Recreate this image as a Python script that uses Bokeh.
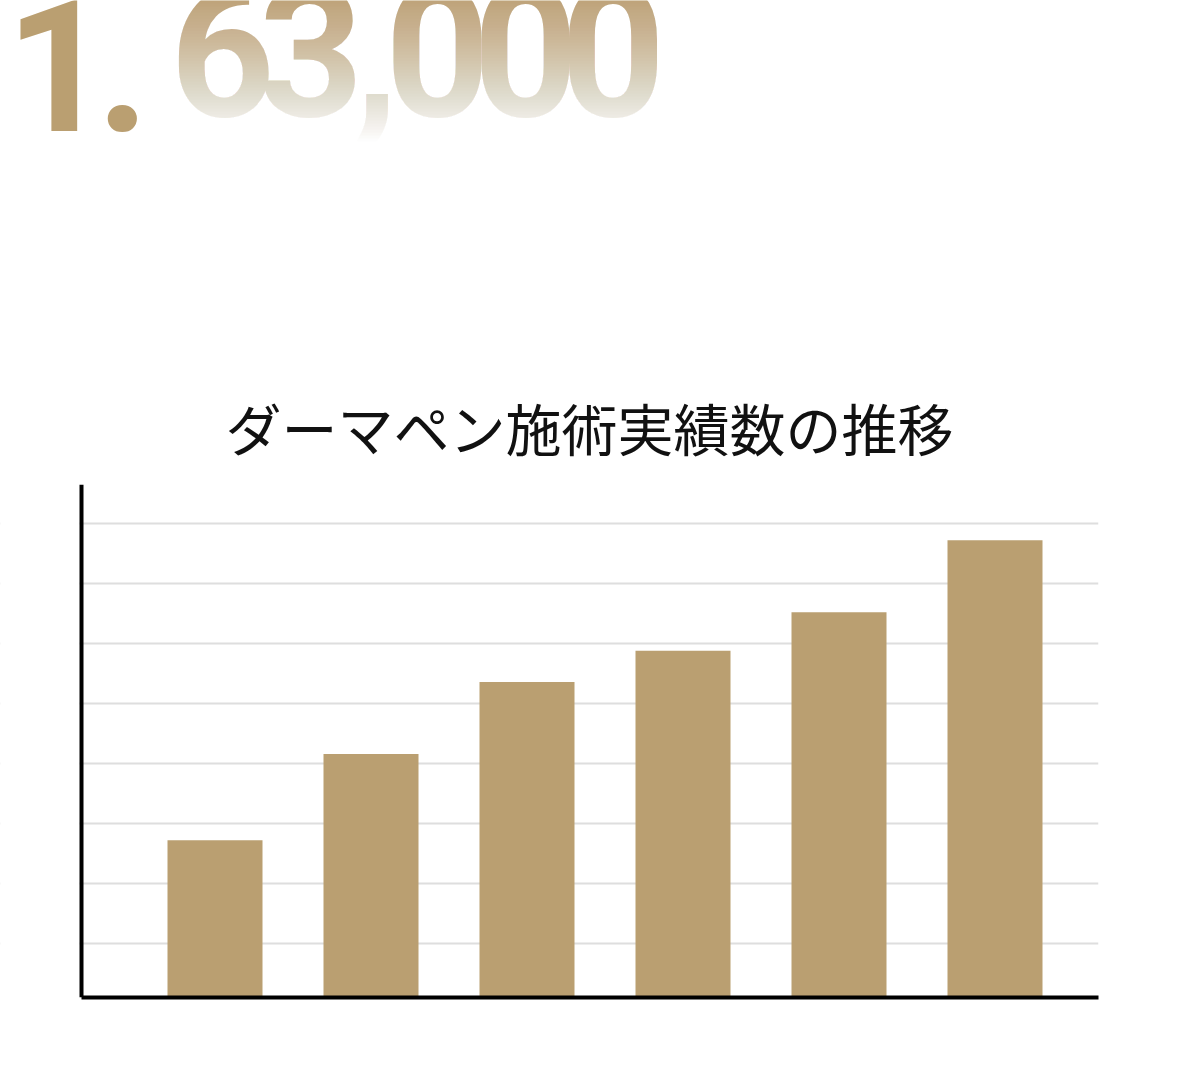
from bokeh.plotting import figure
from bokeh.layouts import column
from bokeh.models import Range1d, FixedTicker, Label, Grid, Span, BoxAnnotation
from bokeh.embed import file_html
from bokeh.resources import INLINE

# ---------------- data ----------------
title_text = "ダーマペン施術実績数の推移"
headline_lead = ["1", "."]
headline_rolling = ["6", "3", ",", "0", "0", "0"]
periods = [1, 2, 3, 4, 5, 6]
counts = [13100, 20300, 26300, 28900, 32100, 38100]
grid_values = [4500, 9500, 14500, 19500, 24500, 29500, 34500, 39500]

# ---------------- style / layout ----------------
GOLD = "#BA9F71"
NUM_FONT = "Roboto"
W = 1176
TOP_H = 359
CHART_H = 1072 - TOP_H
FRAME_R = 1098                      # right edge of both plot frames
PX_PER_CAT = 156.0                  # horizontal pixels per category step
X_START = 1 - 214.5 / PX_PER_CAT    # data x at the left canvas edge
X_END = X_START + FRAME_R / PX_PER_CAT
AXIS_X = X_START + 81 / PX_PER_CAT  # where the vertical axis line sits

# ---- headline (big counter) ----
top = figure(width=W, height=TOP_H, x_range=Range1d(0, FRAME_R), y_range=Range1d(TOP_H, 0),
             output_backend="svg", toolbar_location=None,
             min_border_left=0, min_border_right=W - FRAME_R,
             min_border_top=0, min_border_bottom=0,
             x_axis_type=None, y_axis_type=None, outline_line_color=None)

lead_x = [5, 96]
lead_y = 64.5
roll_x = [169.5, 258, 353, 384.5, 472.5, 560]
roll_y = 50

for ch, x in zip(headline_lead, lead_x):
    top.add_layout(Label(x=x, y=lead_y, text=ch, text_font=NUM_FONT, text_font_size="183px",
                         text_font_style="bold", text_color=GOLD, text_align="left",
                         text_baseline="alphabetic", level="underlay"))
for ch, x in zip(headline_rolling, roll_x):
    top.add_layout(Label(x=x, y=roll_y, text=ch, text_font=NUM_FONT, text_font_size="183px",
                         text_font_style="bold", text_color=GOLD, text_align="left",
                         text_baseline="alphabetic", level="underlay"))

# white fade overlay for the rolling digits (vertical gradient built from stacked layers)
step = 3
y_start, y_end = -12, 160
tops_, alphas_ = [], []
prev = 0.0
yk = y_start
while yk < y_end:
    target = max(0.0, min(1.0, (yk + step - y_start) / 155.0))
    d = 1.0 if target >= 1.0 else 1.0 - (1.0 - target) / (1.0 - prev)
    tops_.append(yk)
    alphas_.append(max(0.0, min(1.0, d)))
    prev = target
    if target >= 1.0:
        break
    yk += step
top.quad(left=[168] * len(tops_), right=[665] * len(tops_), top=tops_,
         bottom=[y_end] * len(tops_),
         fill_color="white", fill_alpha=alphas_, line_color=None)

# ---- bar chart ----
p = figure(width=W, height=CHART_H,
           x_range=Range1d(X_START, X_END), y_range=Range1d(0, 42750),
           output_backend="svg", toolbar_location=None, y_axis_location=None,
           min_border_left=0, min_border_right=W - FRAME_R,
           min_border_top=484 - TOP_H, min_border_bottom=CHART_H - (484 - TOP_H) - 513,
           title=title_text, outline_line_color=None)

p.title.align = "left"
p.title.offset = 225
p.title.text_font = "Noto Sans CJK JP"
p.title.text_font_size = "56px"
p.title.text_font_style = "normal"
p.title.text_color = "#111111"
p.title.standoff = 35

p.xaxis.ticker = FixedTicker(ticks=[])
p.xaxis.bounds = (AXIS_X, X_END)
p.xaxis.axis_line_width = 4
p.xaxis.axis_line_color = "black"
p.xaxis.major_tick_line_color = None
p.xaxis.minor_tick_line_color = None
p.xgrid.visible = False
p.ygrid.visible = False   # default grid off; custom one below

p.add_layout(Grid(dimension=1, ticker=FixedTicker(ticks=grid_values),
                  grid_line_color="#dedede", grid_line_width=2))
# keep the grid lines from showing left of the vertical axis
p.add_layout(BoxAnnotation(right=AXIS_X - 2 / PX_PER_CAT, fill_color="white", fill_alpha=1.0,
                           line_color=None, level="underlay"))

p.vbar(x=periods, top=counts, width=0.609, bottom=0, fill_color=GOLD, line_color=None)

p.add_layout(Span(location=AXIS_X, dimension="height", line_color="black", line_width=4))

layout = column(top, p, spacing=0)

open("out.html", "w").write(file_html(layout, INLINE))
